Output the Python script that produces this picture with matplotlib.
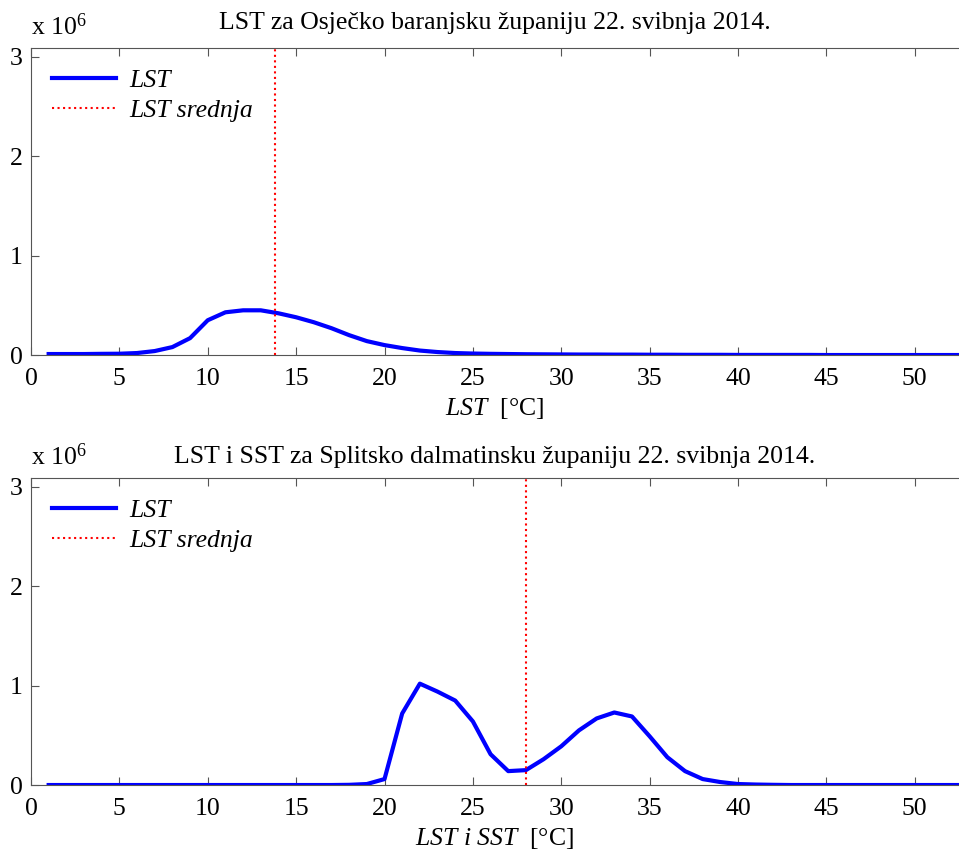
import numpy as np
import matplotlib.pyplot as plt

plt.rcParams['font.family'] = 'Liberation Serif'
plt.rcParams['mathtext.fontset'] = 'custom'
plt.rcParams['mathtext.rm'] = 'Liberation Serif'
plt.rcParams['mathtext.it'] = 'Liberation Serif:italic'

# temperature bins [°C]
temp = np.arange(1, 54)

# Osječko-baranjska: counts in units of 1e6
lst_os = [0.01, 0.01, 0.01, 0.012, 0.013, 0.02, 0.04, 0.08, 0.17, 0.35,
          0.43, 0.45, 0.45, 0.42, 0.38, 0.33, 0.27, 0.20, 0.14, 0.10,
          0.07, 0.045, 0.03, 0.02, 0.015, 0.012, 0.01, 0.008, 0.007, 0.006,
          0.005, 0.005, 0.004, 0.004, 0.003, 0.003, 0.002, 0.002, 0.002, 0.001,
          0.001, 0.001, 0.001, 0.001, 0.0, 0.0, 0.0, 0.0, 0.0, 0.0,
          0.0, 0.0, 0.0]
mean_os = 13.83

# Splitsko-dalmatinska
lst_st = [0.0, 0.0, 0.0, 0.0, 0.0, 0.0, 0.0, 0.0, 0.0, 0.0,
          0.0, 0.0, 0.0, 0.0, 0.0, 0.0, 0.0, 0.002, 0.01, 0.06,
          0.72, 1.02, 0.94, 0.85, 0.64, 0.31, 0.14, 0.15, 0.26, 0.39,
          0.55, 0.67, 0.73, 0.69, 0.49, 0.28, 0.14, 0.06, 0.03, 0.01,
          0.005, 0.002, 0.0, 0.0, 0.0, 0.0, 0.0, 0.0, 0.0, 0.0,
          0.0, 0.0, 0.0]
mean_st = 28.0

fs = 18.5

fig = plt.figure(figsize=(9.59, 8.52), dpi=100)
ax1 = fig.add_axes([0.0323, 0.5833, 0.9677, 0.3604])
ax2 = fig.add_axes([0.0323, 0.0786, 0.9677, 0.3604])

panels = [
    (ax1, lst_os, mean_os, 'LST za Osječko baranjsku županiju 22. svibnja 2014.',
     r'$\mathit{LST}$  [°C]', 14),
    (ax2, lst_st, mean_st, 'LST i SST za Splitsko dalmatinsku županiju 22. svibnja 2014.',
     r'$\mathit{LST\ i\ SST}$  [°C]', 11),
]

for ax, vals, mean, title, xlab, tpad in panels:
    ax.plot(temp, np.array(vals) * 1e6, color='#0000ff', lw=3, label='LST')
    ax.axvline(mean, color='red', ls=':', lw=1.5, label='LST srednja')
    ax.set_xlim(0, 52.5)
    ax.set_ylim(0, 3.09e6)
    ax.set_xticks(np.arange(0, 55, 5))
    ax.set_yticks([0, 1e6, 2e6, 3e6])
    ax.set_yticklabels(['0', '1', '2', '3'])
    ax.tick_params(direction='in', labelsize=fs, length=6, top=True,
                   color='#555555')
    ax.tick_params(axis='x', pad=9)
    ax.tick_params(axis='y', pad=6)
    for s in ['left', 'bottom', 'top']:
        ax.spines[s].set_color('#555555')
    ax.spines['right'].set_visible(False)
    ax.set_title(title, fontsize=fs, pad=tpad)
    ax.set_xlabel(xlab, fontsize=fs, labelpad=5)
    ax.text(0.0, 1.025, r'x 10$^{6}$', transform=ax.transAxes, fontsize=fs,
            ha='left', va='bottom')
    ax.legend(loc='upper left', frameon=False, prop={'style': 'italic', 'size': fs},
              handlelength=2.5, handletextpad=0.5, borderaxespad=0.42,
              labelspacing=0.28)

fig.savefig('out.png', dpi=100)
